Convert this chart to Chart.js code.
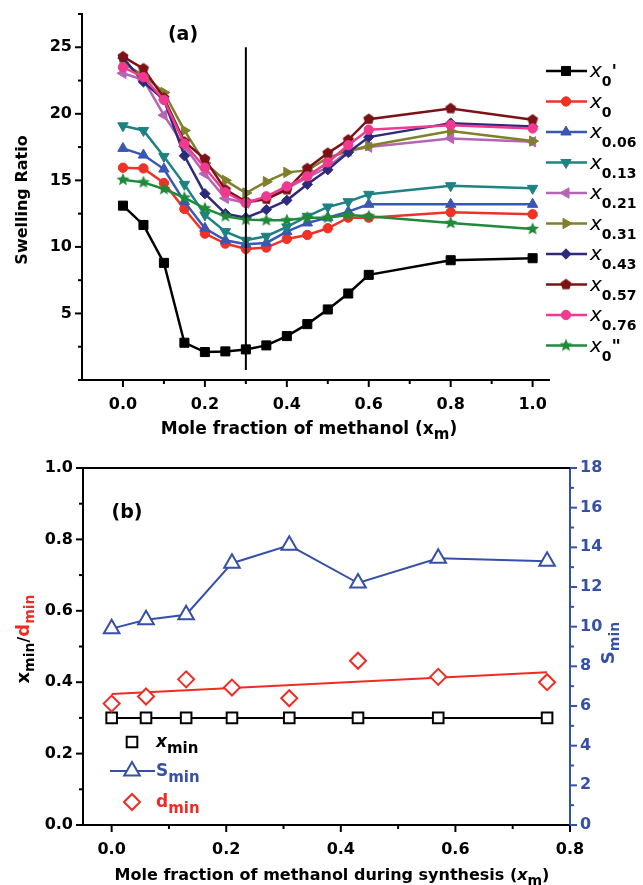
<!DOCTYPE html>
<html>
<head>
<meta charset="utf-8">
<script src="https://cdn.jsdelivr.net/npm/chart.js@4.4.1/dist/chart.umd.min.js"></script>
<style>
  body { margin: 0; background: #fff; }
  #wrap { position: relative; width: 643px; height: 885px; }
  canvas { position: absolute; left: 0; }
</style>
</head>
<body>
<div id="wrap">
  <canvas id="swell" width="643" height="440" style="top:0"></canvas>
  <canvas id="minima" width="643" height="445" style="top:440px"></canvas>
</div>
<script>
const FONT = '"DejaVu Sans", "Liberation Sans", Arial, sans-serif';

// ---- (a) swelling ratio against mole fraction of methanol ----
const xm = [0, 0.05, 0.1, 0.15, 0.2, 0.25, 0.3, 0.35, 0.4, 0.45, 0.5, 0.55, 0.6, 0.8, 1.0];
const sX0p  = [13.1, 11.65, 8.8, 2.8, 2.1, 2.15, 2.3, 2.6, 3.3, 4.2, 5.3, 6.5, 7.9, 9.0, 9.15];
const sX0   = [15.95, 15.9, 14.8, 12.85, 11.0, 10.25, 9.85, 9.95, 10.6, 10.9, 11.4, 12.2, 12.2, 12.6, 12.45];
const sX006 = [17.4, 16.9, 15.85, 13.4, 11.4, 10.5, 10.2, 10.3, 11.15, 11.8, 12.2, 12.65, 13.2, 13.2, 13.2];
const sX013 = [19.1, 18.75, 16.8, 14.7, 12.4, 11.15, 10.5, 10.8, 11.5, 12.3, 13.0, 13.4, 13.95, 14.6, 14.4];
const sX021 = [23.05, 22.55, 19.9, 17.55, 15.5, 13.65, 13.3, 13.6, 14.4, 15.2, 16.0, 17.2, 17.5, 18.15, 17.9];
const sX031 = [23.8, 22.9, 21.6, 18.75, 16.3, 15.0, 14.05, 14.9, 15.6, 15.75, 16.7, 17.2, 17.6, 18.7, 17.95];
const sX043 = [24.2, 22.4, 21.05, 16.85, 14.0, 12.5, 12.2, 12.8, 13.5, 14.7, 15.8, 17.1, 18.25, 19.3, 19.05];
const sX057 = [24.3, 23.4, 21.2, 17.9, 16.6, 14.3, 13.4, 13.6, 14.3, 15.9, 17.05, 18.05, 19.6, 20.4, 19.55];
const sX076 = [23.5, 22.75, 21.05, 17.75, 15.95, 14.1, 13.3, 13.8, 14.55, 15.3, 16.35, 17.65, 18.8, 19.15, 18.9];
const sX0pp = [15.05, 14.85, 14.35, 13.7, 12.9, 12.3, 12.05, 12.0, 12.0, 12.2, 12.2, 12.4, 12.3, 11.8, 11.35];
const namesA = ["x0'", 'x0', 'x0.06', 'x0.13', 'x0.21', 'x0.31', 'x0.43', 'x0.57', 'x0.76', 'x0"'];
const valuesA = [sX0p, sX0, sX006, sX013, sX021, sX031, sX043, sX057, sX076, sX0pp];
const minLineX = [0.3, 0.3];
const minLineY = [0.75, 25];

const xTicksA = [0, 0.2, 0.4, 0.6, 0.8, 1.0];
const xMinorA = [0.1, 0.3, 0.5, 0.7, 0.9];
const yTicksA = [5, 10, 15, 20, 25];
const yMinorA = [0, 2.5, 7.5, 12.5, 17.5, 22.5, 27.5];

// ---- (b) minimum position / swelling / d against synthesis composition ----
const xSyn = [0, 0.06, 0.13, 0.21, 0.31, 0.43, 0.57, 0.76];
const xMin = [0.3, 0.3, 0.3, 0.3, 0.3, 0.3, 0.3, 0.3];
const sMin = [9.9, 10.35, 10.6, 13.2, 14.1, 12.2, 13.45, 13.3];
const dMin = [0.34, 0.36, 0.408, 0.385, 0.355, 0.46, 0.415, 0.4];
const dFitX = [0, 0.76];
const dFitY = [0.367, 0.428];

const xTicksB = [0, 0.2, 0.4, 0.6, 0.8];
const xMinorB = [0.1, 0.3, 0.5, 0.7];
const yTicksB = [0, 0.2, 0.4, 0.6, 0.8, 1.0];
const yMinorB = [0.1, 0.3, 0.5, 0.7, 0.9];
const y2TicksB = [0, 2, 4, 6, 8, 10, 12, 14, 16, 18];
const y2MinorB = [1, 3, 5, 7, 9, 11, 13, 15, 17];

const BLUE = '#3550a6';
const RED = '#ee2c24';

// custom marker shapes
function polyMarker(color, n, r, inner) {
  const size = Math.ceil(2 * r + 2);
  const c = document.createElement('canvas');
  c.width = c.height = size;
  const g = c.getContext('2d');
  g.fillStyle = color;
  g.beginPath();
  const steps = inner ? n * 2 : n;
  for (let i = 0; i < steps; i++) {
    const a = -Math.PI / 2 + i * 2 * Math.PI / steps;
    const rr = inner && i % 2 ? r * inner : r;
    g.lineTo(size / 2 + rr * Math.cos(a), size / 2 + rr * Math.sin(a));
  }
  g.closePath();
  g.fill();
  return c;
}

const styleA = [
  { color: '#000000', point: 'rect', rot: 0, r: 6.4 },
  { color: '#ee3326', point: 'circle', rot: 0, r: 4.7 },
  { color: '#3a58b3', point: 'triangle', rot: 0, r: 6 },
  { color: '#1f8282', point: 'triangle', rot: 180, r: 6 },
  { color: '#b466b6', point: 'triangle', rot: 270, r: 6 },
  { color: '#7f7f2c', point: 'triangle', rot: 90, r: 6 },
  { color: '#2d2a7c', point: 'rectRot', rot: 0, r: 5.2 },
  { color: '#7c1216', point: polyMarker('#7c1216', 5, 5.8), rot: 0, r: 5.8 },
  { color: '#f03a8f', point: 'circle', rot: 0, r: 4.7 },
  { color: '#1e8a3a', point: polyMarker('#1e8a3a', 5, 6.8, 0.45), rot: 0, r: 6.8 }
];

// ticks drawn by hand so major and minor marks can have different lengths
const tickMarks = {
  id: 'tickMarks',
  afterDraw(chart, args, opts) {
    const ctx = chart.ctx;
    ctx.save();
    ctx.lineWidth = 2;
    for (const id in opts.axes) {
      const s = chart.scales[id], cfg = opts.axes[id];
      ctx.strokeStyle = cfg.color || '#000';
      const draw = (vals, len) => vals.forEach(v => {
        const p = s.getPixelForValue(v);
        ctx.beginPath();
        if (s.isHorizontal()) { ctx.moveTo(p, s.top); ctx.lineTo(p, s.top + len); }
        else if (s.position === 'left') { ctx.moveTo(s.right, p); ctx.lineTo(s.right - len, p); }
        else { ctx.moveTo(s.left, p); ctx.lineTo(s.left + len, p); }
        ctx.stroke();
      });
      draw(cfg.major, 7);
      draw(cfg.minor, 4);
    }
    ctx.restore();
  }
};

// text with sub/superscript pieces, optionally rotated
function rich(ctx, parts, x, y, align, angle) {
  ctx.save();
  ctx.translate(x, y);
  ctx.rotate(angle || 0);
  let w = 0;
  parts.forEach(p => { ctx.font = p.font; p.w = ctx.measureText(p.t).width; w += p.w; });
  let cx = align === 'center' ? -w / 2 : align === 'right' ? -w : 0;
  ctx.textAlign = 'left';
  ctx.textBaseline = 'alphabetic';
  parts.forEach(p => {
    ctx.font = p.font;
    ctx.fillStyle = p.color || '#000';
    ctx.fillText(p.t, cx, p.dy || 0);
    cx += p.w;
  });
  ctx.restore();
}

const B16 = 'bold 16px ' + FONT;
const B17 = 'bold 17px ' + FONT;
const B14 = 'bold 14px ' + FONT;
const I20 = 'oblique 20px ' + FONT;

function marker(ctx, ds, x, y) {
  ctx.fillStyle = ds.pointBackgroundColor;
  ctx.strokeStyle = ds.pointBorderColor;
  ctx.lineWidth = ds.pointBorderWidth;
  Chart.helpers.drawPoint(ctx, {
    pointStyle: ds.pointStyle, rotation: ds.pointRotation,
    radius: ds.pointRadius, borderWidth: ds.pointBorderWidth
  }, x, y);
}

const textA = {
  id: 'textA',
  afterDraw(chart) {
    const ctx = chart.ctx;
    rich(ctx, [{ t: '(a)', font: 'bold 19px ' + FONT }], 183, 40, 'center');
    rich(ctx, [{ t: 'Swelling Ratio', font: B16 }], 27, 200, 'center', -Math.PI / 2);
    rich(ctx, [
      { t: 'Mole fraction of methanol (x', font: B17 },
      { t: 'm', font: 'bold 15px ' + FONT, dy: 5 },
      { t: ')', font: B17 }
    ], 309, 434, 'center');
    // legend
    namesA.forEach((name, i) => {
      const ds = chart.data.datasets[i];
      const y = 71 + i * 30.5;
      ctx.save();
      ctx.strokeStyle = ds.borderColor;
      ctx.lineWidth = ds.borderWidth;
      ctx.beginPath(); ctx.moveTo(546, y); ctx.lineTo(587, y); ctx.stroke();
      marker(ctx, ds, 566, y);
      ctx.restore();
      const m = name.match(/^x([\d.]+)(.*)$/);
      const parts = [{ t: 'x', font: I20 }, { t: m[1], font: B14, dy: 9 }];
      if (m[2]) parts.push({ t: m[2], font: 'bold 18px ' + FONT });
      rich(ctx, parts, 590, y + 6, 'left');
    });
  }
};

const datasetsA = valuesA.map((vals, i) => ({
  label: namesA[i],
  data: xm.map((x, j) => ({ x, y: vals[j] })),
  borderColor: styleA[i].color,
  backgroundColor: styleA[i].color,
  borderWidth: 2.5,
  pointStyle: styleA[i].point,
  pointRotation: styleA[i].rot,
  pointRadius: styleA[i].r,
  pointBackgroundColor: styleA[i].color,
  pointBorderColor: styleA[i].color,
  pointBorderWidth: 1,
  tension: 0,
  order: 10 - i
}));
datasetsA.push({
  label: 'minimum',
  data: minLineX.map((x, j) => ({ x, y: minLineY[j] })),
  borderColor: '#000',
  borderWidth: 2,
  pointRadius: 0,
  order: -1
});

const tickFont = { family: FONT, size: 16, weight: 'bold' };
const hiddenTicks = { drawOnChartArea: false, tickLength: 7, tickColor: 'rgba(0,0,0,0)' };

new Chart(document.getElementById('swell'), {
  type: 'line',
  data: { datasets: datasetsA },
  options: {
    responsive: false,
    animation: false,
    events: [],
    layout: { padding: { left: 0, top: 14, right: 94, bottom: 0 } },
    plugins: {
      legend: { display: false },
      tooltip: { enabled: false },
      tickMarks: { axes: { x: { major: xTicksA, minor: xMinorA }, y: { major: yTicksA, minor: yMinorA } } }
    },
    scales: {
      x: {
        type: 'linear', min: -0.1, max: 1.04,
        afterFit(s) { s.height = 60; },
        afterBuildTicks(s) { s.ticks = xTicksA.map(v => ({ value: v })); },
        ticks: { callback: v => v.toFixed(1), font: tickFont, color: '#000', padding: 8, maxRotation: 0, autoSkip: false },
        grid: hiddenTicks,
        border: { color: '#000', width: 2 }
      },
      y: {
        type: 'linear', min: 0, max: 27.5,
        afterFit(s) { s.width = 82; },
        afterBuildTicks(s) { s.ticks = yTicksA.map(v => ({ value: v })); },
        ticks: { callback: v => String(v), font: tickFont, color: '#000', padding: 3 },
        grid: hiddenTicks,
        border: { color: '#000', width: 2 }
      }
    }
  },
  plugins: [tickMarks, textA]
});

// ---- chart (b) ----
const textB = {
  id: 'textB',
  afterDraw(chart) {
    const ctx = chart.ctx;
    const a = chart.chartArea;
    ctx.save();
    ctx.strokeStyle = '#000';
    ctx.lineWidth = 2;
    ctx.beginPath(); ctx.moveTo(a.left, a.top); ctx.lineTo(a.right, a.top); ctx.stroke();
    ctx.restore();

    rich(ctx, [{ t: '(b)', font: 'bold 19px ' + FONT }], 127, 78, 'center');
    rich(ctx, [
      { t: 'Mole fraction of methanol during synthesis (', font: B16 },
      { t: 'x', font: 'bold oblique 16px ' + FONT },
      { t: 'm', font: B14, dy: 5 },
      { t: ')', font: B16 }
    ], 332, 440, 'center');
    rich(ctx, [
      { t: 'x', font: 'bold 18px ' + FONT },
      { t: 'min', font: B14, dy: 5 },
      { t: '/', font: B16 },
      { t: 'd', font: 'bold 18px ' + FONT, color: RED },
      { t: 'min', font: B14, dy: 5, color: RED }
    ], 29, 199, 'center', -Math.PI / 2);
    rich(ctx, [
      { t: 'S', font: 'bold 18px ' + FONT, color: BLUE },
      { t: 'min', font: B14, dy: 5, color: BLUE }
    ], 614, 203, 'center', -Math.PI / 2);

    // legend
    const ds = chart.data.datasets;
    const rows = [
      { ds: ds[1], y: 302, main: 'x', mainFont: 'bold oblique 17px ' + FONT, color: '#000', line: false },
      { ds: ds[2], y: 331, main: 'S', mainFont: 'bold 17px ' + FONT, color: BLUE, line: true },
      { ds: ds[0], y: 362, main: 'd', mainFont: 'bold 17px ' + FONT, color: RED, line: false }
    ];
    rows.forEach(r => {
      ctx.save();
      if (r.line) {
        ctx.strokeStyle = r.ds.borderColor;
        ctx.lineWidth = r.ds.borderWidth;
        ctx.beginPath(); ctx.moveTo(110, r.y); ctx.lineTo(155, r.y); ctx.stroke();
      }
      marker(ctx, r.ds, 132, r.y);
      ctx.restore();
      rich(ctx, [
        { t: r.main, font: r.mainFont, color: r.color },
        { t: 'min', font: 'bold 15px ' + FONT, dy: 6, color: r.color }
      ], 156, r.y + 5, 'left');
    });
  }
};

const pts = (xs, ys) => xs.map((x, i) => ({ x, y: ys[i] }));

new Chart(document.getElementById('minima'), {
  type: 'line',
  data: {
    datasets: [
      {
        label: 'dmin', data: pts(xSyn, dMin), showLine: false, yAxisID: 'y',
        pointStyle: 'rectRot', pointRadius: 8, pointBorderWidth: 2,
        pointBorderColor: RED, pointBackgroundColor: '#fff', borderColor: RED, order: 1
      },
      {
        label: 'xmin', data: pts(xSyn, xMin), yAxisID: 'y',
        borderColor: '#000', borderWidth: 2, tension: 0,
        pointStyle: 'rect', pointRotation: 0, pointRadius: 7.5, pointBorderWidth: 2,
        pointBorderColor: '#000', pointBackgroundColor: '#fff', order: 2
      },
      {
        label: 'Smin', data: pts(xSyn, sMin), yAxisID: 'y2',
        borderColor: BLUE, borderWidth: 2, tension: 0,
        pointStyle: 'triangle', pointRotation: 0, pointRadius: 9, pointBorderWidth: 2,
        pointBorderColor: BLUE, pointBackgroundColor: '#fff', order: 3
      },
      {
        label: 'dfit', data: pts(dFitX, dFitY), yAxisID: 'y',
        borderColor: RED, borderWidth: 2, pointRadius: 0, order: 4
      }
    ]
  },
  options: {
    responsive: false,
    animation: false,
    events: [],
    layout: { padding: { left: 0, top: 28, right: 0, bottom: 0 } },
    plugins: {
      legend: { display: false },
      tooltip: { enabled: false },
      tickMarks: {
        axes: {
          x: { major: xTicksB, minor: xMinorB },
          y: { major: yTicksB, minor: yMinorB },
          y2: { major: y2TicksB, minor: y2MinorB, color: BLUE }
        }
      }
    },
    scales: {
      x: {
        type: 'linear', min: -0.05, max: 0.8,
        afterFit(s) { s.height = 60; },
        afterBuildTicks(s) { s.ticks = xTicksB.map(v => ({ value: v })); },
        ticks: { callback: v => v.toFixed(1), font: tickFont, color: '#000', padding: 8, maxRotation: 0, autoSkip: false },
        grid: hiddenTicks,
        border: { color: '#000', width: 2 }
      },
      y: {
        type: 'linear', position: 'left', min: 0, max: 1,
        afterFit(s) { s.width = 83; },
        afterBuildTicks(s) { s.ticks = yTicksB.map(v => ({ value: v })); },
        ticks: { callback: v => v.toFixed(1), font: tickFont, color: '#000', padding: 3 },
        grid: hiddenTicks,
        border: { color: '#000', width: 2 }
      },
      y2: {
        type: 'linear', position: 'right', min: 0, max: 18,
        afterFit(s) { s.width = 73; },
        afterBuildTicks(s) { s.ticks = y2TicksB.map(v => ({ value: v })); },
        ticks: { callback: v => String(v), font: tickFont, color: BLUE, padding: 3 },
        grid: hiddenTicks,
        border: { color: BLUE, width: 2 }
      }
    }
  },
  plugins: [tickMarks, textB]
});
</script>
</body>
</html>
